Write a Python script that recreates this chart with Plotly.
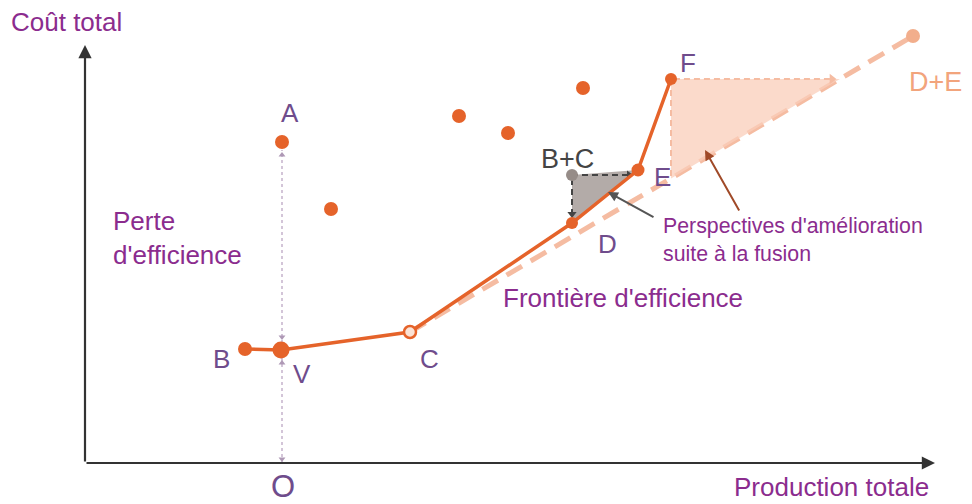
import plotly.graph_objects as go

# ---- data (x = production, y = cost, in drawing units) ----
other_x = [246, 374, 423, 498]
other_y = [254, 347, 330, 375]

point_names = ["A", "B", "V", "C", "D", "E", "F", "B+C", "D+E"]
point_x = [197, 160, 196, 325, 487, 553, 586, 487, 828]
point_y = [321, 114, 113, 131, 240, 293, 384, 288, 427]

frontier_names = ["B", "V", "C", "D", "E", "F"]
merged_frontier = ["C", "D+E"]

P = {n: (x, y) for n, x, y in zip(point_names, point_x, point_y)}

ORANGE = "#E5632A"
LIGHT = "#F5BCA2"
PURPLE = "#8B2C8E"
LETTER = "#6F4C8C"
FONT = "Liberation Sans, Arial, sans-serif"

fig = go.Figure()

# merged efficiency frontier (dashed, light)
cx, cy = P["C"]
dex, dey = P["D+E"]
slope = (dey - cy) / (dex - cx)
fig.add_trace(go.Scatter(x=[cx, dex], y=[cy, dey], mode="lines",
                         line=dict(color=LIGHT, width=5, dash="18px,10px"),
                         hoverinfo="skip"))

# pink triangle (improvement after merger)
fx, fy = P["F"]
y_on = cy + slope * (fx - cx)
x_on = cx + (fy - cy) / slope
fig.add_trace(go.Scatter(x=[fx, fx, x_on, fx], y=[fy, y_on, fy, fy], mode="lines",
                         fill="toself", fillcolor="rgba(249,205,185,0.75)",
                         line=dict(width=0), hoverinfo="skip"))
fig.add_trace(go.Scatter(x=[x_on - 10, fx, fx], y=[fy, fy, y_on], mode="lines",
                         line=dict(color=LIGHT, width=2, dash="6px,4px"), hoverinfo="skip"))
fig.add_trace(go.Scatter(x=[x_on - 8], y=[fy], mode="markers",
                         marker=dict(symbol="triangle-right", size=9, color=LIGHT),
                         hoverinfo="skip"))

# gray triangle (B+C)
bcx, bcy = P["B+C"]
dx, dy = P["D"]
ex, ey = P["E"]
fig.add_trace(go.Scatter(x=[bcx, dx, ex, bcx], y=[bcy, dy, ey, bcy], mode="lines",
                         fill="toself", fillcolor="rgba(160,150,146,0.8)",
                         line=dict(width=0), hoverinfo="skip"))
fig.add_trace(go.Scatter(x=[ex - 10, bcx, bcx], y=[bcy, bcy, dy + 10], mode="lines",
                         line=dict(color="#444444", width=2, dash="6px,4px"),
                         hoverinfo="skip"))
fig.add_trace(go.Scatter(x=[ex - 9, bcx], y=[bcy, dy + 9], mode="markers",
                         marker=dict(symbol=["triangle-right", "triangle-down"], size=8,
                                     color="#444444"), hoverinfo="skip"))

# vertical dotted line O - V - A
ax_, ay_ = P["A"]
vx, vy = P["V"]
fig.add_trace(go.Scatter(x=[ax_, ax_], y=[0, ay_ - 8], mode="lines",
                         line=dict(color="#C5B2CB", width=1.5, dash="dot"), hoverinfo="skip"))
fig.add_trace(go.Scatter(x=[ax_] * 4, y=[ay_ - 13, vy + 13, vy - 13, 4], mode="markers",
                         marker=dict(symbol=["triangle-up", "triangle-down", "triangle-up", "triangle-down"],
                                     size=6, color="#AE98B5"), hoverinfo="skip"))

# efficiency frontier
fig.add_trace(go.Scatter(x=[P[n][0] for n in frontier_names],
                         y=[P[n][1] for n in frontier_names],
                         mode="lines", line=dict(color=ORANGE, width=3.5), hoverinfo="skip"))


def dot(xs, ys, size, color, line=None):
    fig.add_trace(go.Scatter(x=xs, y=ys, mode="markers", hoverinfo="skip",
                             marker=dict(size=size, color=color, opacity=1,
                                         line=line or dict(width=0))))


# other firms
dot(other_x, other_y, 14, ORANGE)
# named points
dot([P["A"][0], P["B"][0]], [P["A"][1], P["B"][1]], 14, ORANGE)
dot([P["D"][0], P["F"][0]], [P["D"][1], P["F"][1]], 12, ORANGE)
dot([P["E"][0]], [P["E"][1]], 13, ORANGE)
dot([P["V"][0]], [P["V"][1]], 17, ORANGE)
dot([P["C"][0]], [P["C"][1]], 12, "#FBE3D6", dict(color=ORANGE, width=2.5))
dot([P["B+C"][0]], [P["B+C"][1]], 12, "#968C88")
dot([P["D+E"][0]], [P["D+E"][1]], 14, "#F2AE8C")

ann = []
# axes
ann.append(dict(x=850, y=0, ax=0, ay=0, xref="x", yref="y", axref="x", ayref="y", text="",
                showarrow=True, arrowhead=2, arrowsize=1.2, arrowwidth=2.2, arrowcolor="#333333"))
ann.append(dict(x=0, y=418, ax=0, ay=0, xref="x", yref="y", axref="x", ayref="y", text="",
                showarrow=True, arrowhead=2, arrowsize=1.2, arrowwidth=2.2, arrowcolor="#333333"))
# pointer arrows
ann.append(dict(x=620, y=313, ax=655, ay=251, xref="x", yref="y", axref="x", ayref="y", text="",
                showarrow=True, arrowhead=2, arrowsize=1, arrowwidth=2, arrowcolor="#A04A28"))
ann.append(dict(x=523, y=271, ax=570, ay=245, xref="x", yref="y", axref="x", ayref="y", text="",
                showarrow=True, arrowhead=2, arrowsize=1, arrowwidth=2, arrowcolor="#555555"))


def txt(t, x, y, size, color, xanchor="center"):
    ann.append(dict(x=x, y=y, xref="x", yref="y", text=t, showarrow=False,
                    xanchor=xanchor, yanchor="middle", align=xanchor if xanchor != "center" else "center",
                    font=dict(family=FONT, size=size, color=color)))


txt("Coût total", -76, 441, 26, PURPLE, "left")
txt("A", 205, 350, 26, LETTER)
txt("B", 136, 104, 26, LETTER)
txt("V", 217, 89, 26, LETTER)
txt("C", 344, 104, 26, LETTER)
txt("D", 522, 219, 26, LETTER)
txt("E", 577, 286, 26, LETTER)
txt("F", 603, 400, 26, LETTER)
txt("O", 198, -23, 31, LETTER)
txt("B+C", 482, 304, 27, "#444444")
txt("D+E", 850, 381, 27, "#F2A47C")
txt("Perte<br>d'efficience", 26, 225, 26, PURPLE, "left")
txt("Frontière d'efficience", 416, 165, 26, PURPLE, "left")
txt("Perspectives d'amélioration<br>suite à la fusion", 576, 223, 21.3, PURPLE, "left")
txt("Production totale", 647, -24, 26, PURPLE, "left")

# The page body has an 8px margin: size the figure and its ranges so that
# the drawing units line up with the window pixels.
fig.update_layout(
    width=964, height=496,
    margin=dict(l=0, r=0, t=0, b=0),
    paper_bgcolor="white", plot_bgcolor="white",
    showlegend=False,
    annotations=ann,
    xaxis=dict(range=[-77, 887], visible=False, fixedrange=True),
    yaxis=dict(range=[-41, 455], visible=False, fixedrange=True),
)

fig.write_html("out.html")
